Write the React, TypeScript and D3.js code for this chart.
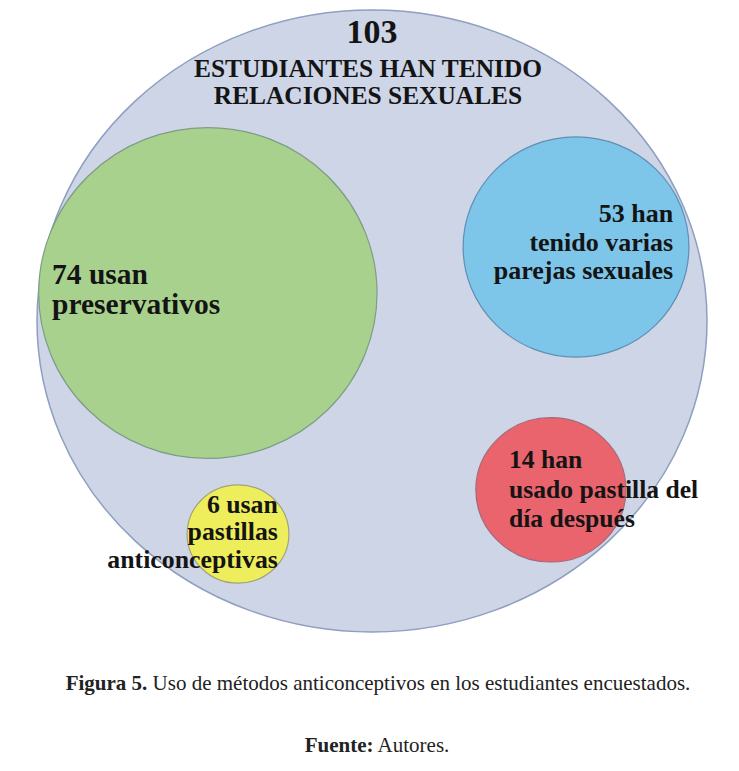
import { useEffect } from 'react';
import * as d3 from 'd3';

// data
const totalValue = 103;
const totalLabel = ['ESTUDIANTES HAN TENIDO', 'RELACIONES SEXUALES'];
const groupValues = [74, 53, 14, 6];
const groupLabels = [
    ['usan', 'preservativos'],
    ['han', 'tenido varias', 'parejas sexuales'],
    ['han', 'usado pastilla del', 'día después'],
    ['usan', 'pastillas', 'anticonceptivas']
];
const captionBold = 'Figura 5.';
const captionText = ' Uso de métodos anticonceptivos en los estudiantes encuestados.';
const sourceBold = 'Fuente:';
const sourceText = ' Autores.';

// layout, in units of the outer ellipse (-1..1)
const groupLayout = [
    { cx: -0.49, cy: -0.09, rx: 0.505, ry: 0.532, fill: '#a9d18e', stroke: '#7f9c86', tx: -0.955, ty: -0.12, anchor: 'start', size: 29.5, lh: 30 },
    { cx: 0.609, cy: -0.238, rx: 0.337, ry: 0.354, fill: '#7dc5e9', stroke: '#5e8fb6', tx: 0.899, ty: -0.318, anchor: 'end', size: 26, lh: 28.5 },
    { cx: 0.534, cy: 0.543, rx: 0.224, ry: 0.232, fill: '#e9646d', stroke: '#a7687a', tx: 0.409, ty: 0.473, anchor: 'start', size: 25.6, lh: 29.5 },
    { cx: -0.4, cy: 0.685, rx: 0.152, ry: 0.158, fill: '#eeee5c', stroke: '#a3a37a', tx: -0.281, ty: 0.617, anchor: 'end', size: 25.8, lh: 27.5 }
];

const W = 739;
const H = 771;
const outer = { cx: 372, cy: 321, rx: 335, ry: 311 };
const serif = '"Liberation Serif", "Times New Roman", serif';

export default function App() {
    useEffect(() => {
        document.body.style.margin = '0';
    }, []);

    const x = d3.scaleLinear().domain([-1, 1]).range([outer.cx - outer.rx, outer.cx + outer.rx]);
    const y = d3.scaleLinear().domain([-1, 1]).range([outer.cy - outer.ry, outer.cy + outer.ry]);
    const kx = d3.scaleLinear().domain([0, 1]).range([0, outer.rx]);
    const ky = d3.scaleLinear().domain([0, 1]).range([0, outer.ry]);

    return (
        <svg width={W} height={H} style={{ display: 'block', background: '#fff' }}>
            <ellipse cx={x(0)} cy={y(0)} rx={kx(1)} ry={ky(1)} fill="#cdd5e7" stroke="#8e9fbf" strokeWidth={1.5} />

            {groupLayout.map((g, i) => (
                <ellipse key={'c' + i} cx={x(g.cx)} cy={y(g.cy)} rx={kx(g.rx)} ry={ky(g.ry)}
                    fill={g.fill} stroke={g.stroke} strokeWidth={1.2} />
            ))}

            <g fontFamily={serif} fontWeight="bold" fill="#141414" textAnchor="middle">
                <text x={x(0)} y={y(-0.894)} fontSize={34}>{totalValue}</text>
                {totalLabel.map((t, i) => (
                    <text key={'t' + i} x={x(-0.012)} y={y(-0.785) + i * 27} fontSize={25.4}>{t}</text>
                ))}
            </g>

            {groupLayout.map((g, i) => (
                <g key={'l' + i} fontFamily={serif} fontWeight="bold" fill="#141414"
                    textAnchor={g.anchor} fontSize={g.size}>
                    {groupLabels[i].map((line, j) => (
                        <text key={j} x={x(g.tx)} y={y(g.ty) + j * g.lh}>
                            {j === 0 ? `${groupValues[i]} ${line}` : line}
                        </text>
                    ))}
                </g>
            ))}

            <g fontFamily={serif} fill="#222" fontSize={21} textAnchor="middle">
                <text x={378} y={690}>
                    <tspan fontWeight="bold">{captionBold}</tspan>{captionText}
                </text>
                <text x={377} y={752}>
                    <tspan fontWeight="bold">{sourceBold}</tspan>{sourceText}
                </text>
            </g>
        </svg>
    );
}
